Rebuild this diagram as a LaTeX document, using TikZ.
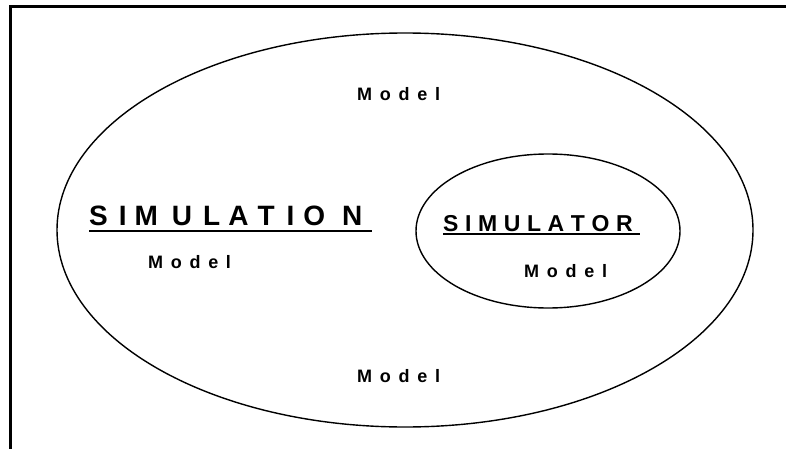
\documentclass[tikz,border=0pt]{standalone}
\usepackage{fontspec}
\usetikzlibrary{shapes.geometric}
\setmainfont{Liberation Sans}
\newcommand\modelword{M\kern7.7pt o\kern7.7pt d\kern7.7pt e\kern7.7pt l}
\begin{document}
\begin{tikzpicture}[x=1pt,y=1pt,
  lbl/.style={inner sep=0pt, anchor=base west},
  modellbl/.style={lbl, font=\bfseries\fontsize{18}{20}\selectfont},
  ring/.style={draw=black, line width=1.4pt},
  uline/.style={line width=2pt}]
\useasboundingbox (0,0) rectangle (786,448);
\fill[white] (0,0) rectangle (786,448);
\draw[line width=3pt] (10.3,-10) -- (10.3,441.5) -- (800,441.5);
\node[ring, ellipse, minimum width=696pt, minimum height=394pt, inner sep=0pt] (outer) at (405,218) {};
\node[ring, ellipse, minimum width=264pt, minimum height=154pt, inner sep=0pt] (inner) at (548,217) {};
\node[lbl, font=\bfseries\fontsize{28}{30}\selectfont] (simn) at (89,223) {S\kern11pt I\kern8pt M\kern14pt U\kern11pt L\kern8pt A\kern9pt T\kern12pt I\kern9pt O\kern17pt N};
\coordinate (u1a) at (89,217);
\coordinate (u1b) at (372,217);
\draw[uline] (u1a) -- (u1b);
\node[lbl, font=\bfseries\fontsize{23}{25}\selectfont] (simr) at (443,217) {S\kern6.6pt I\kern6.6pt M\kern6.6pt U\kern6.6pt L\kern6.6pt A\kern6.6pt T\kern6.6pt O\kern6.6pt R};
\coordinate (u2a) at (443,214);
\coordinate (u2b) at (640,214);
\draw[uline] (u2a) -- (u2b);
\node[modellbl] (mtop) at (357,348) {\modelword};
\node[modellbl] (mbot) at (357,66) {\modelword};
\node[modellbl] (mleft) at (148,180) {\modelword};
\node[modellbl] (minner) at (524,171) {\modelword};
\end{tikzpicture}
\end{document}
